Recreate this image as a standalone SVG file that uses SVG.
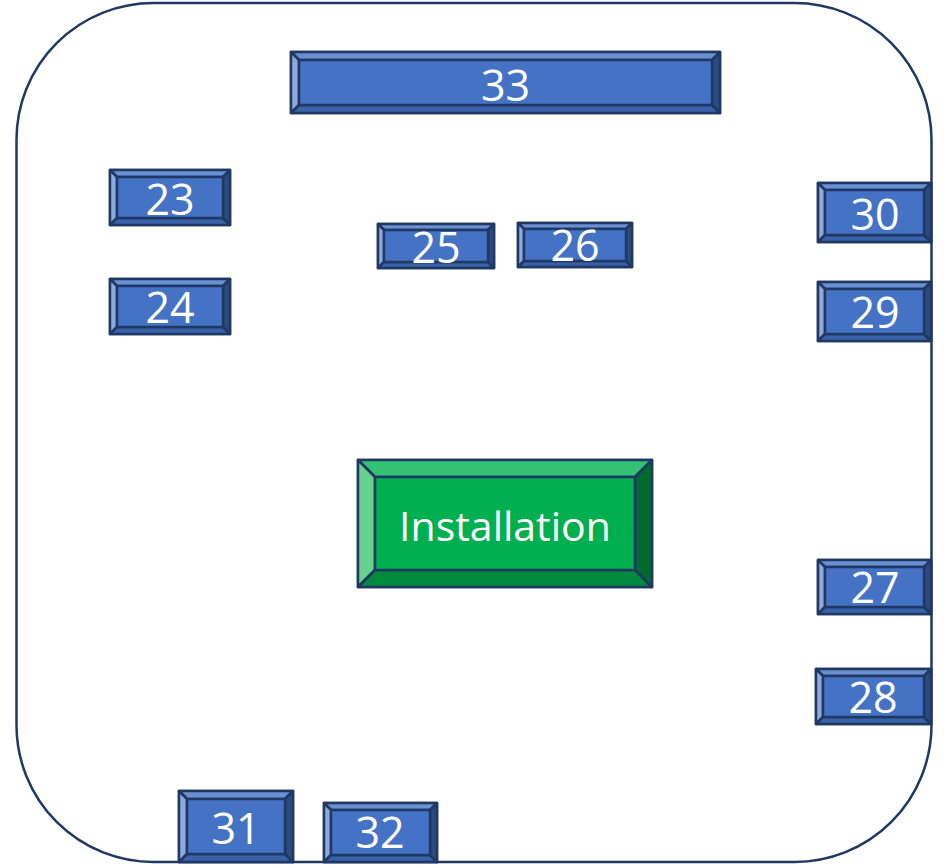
<svg xmlns="http://www.w3.org/2000/svg" width="947" height="865" viewBox="0 0 947 865">
<style>
.s{stroke:#1F3864;stroke-width:2.5;stroke-linejoin:round}
.bm{fill:#4472C4}.bt{fill:#6A8FD2}.bl{fill:#8EAADC}.bb{fill:#3A62A8}.br{fill:#2B4A80}
.gm{fill:#00B050}.gt{fill:#33C174}.gl{fill:#66D08F}.gb{fill:#008A3E}.gr{fill:#006B2F}
.lbl{fill:#FFFFFF;font-family:"Open Sans","Noto Sans",sans-serif;font-size:43px;text-anchor:middle}
</style>
<rect id="frame" x="16.5" y="3" width="915" height="859" rx="137" ry="137" fill="#FFFFFF" stroke="#1F3864" stroke-width="2.5"/>
<g id="connectors"/>
<g id="n33">
<rect class="s bm" x="291" y="52" width="429" height="61"/>
<path class="s bt" d="M291,52 L720,52 L712,60 L299,60 Z"/>
<path class="s bl" d="M291,52 L299,60 L299,105 L291,113 Z"/>
<path class="s bb" d="M291,113 L299,105 L712,105 L720,113 Z"/>
<path class="s br" d="M720,52 L720,113 L712,105 L712,60 Z"/>
<rect class="s bm" x="299" y="60" width="413" height="45"/>
<text class="lbl" x="505.5" y="101">33</text>
</g>
<g id="n23">
<rect class="s bm" x="110" y="170" width="120" height="55"/>
<path class="s bt" d="M110,170 L230,170 L223,177 L117,177 Z"/>
<path class="s bl" d="M110,170 L117,177 L117,218 L110,225 Z"/>
<path class="s bb" d="M110,225 L117,218 L223,218 L230,225 Z"/>
<path class="s br" d="M230,170 L230,225 L223,218 L223,177 Z"/>
<rect class="s bm" x="117" y="177" width="106" height="41"/>
<text class="lbl" x="170" y="215">23</text>
</g>
<g id="n24">
<rect class="s bm" x="110" y="279" width="120" height="55"/>
<path class="s bt" d="M110,279 L230,279 L223,286 L117,286 Z"/>
<path class="s bl" d="M110,279 L117,286 L117,327 L110,334 Z"/>
<path class="s bb" d="M110,334 L117,327 L223,327 L230,334 Z"/>
<path class="s br" d="M230,279 L230,334 L223,327 L223,286 Z"/>
<rect class="s bm" x="117" y="286" width="106" height="41"/>
<text class="lbl" x="170" y="323">24</text>
</g>
<g id="n25">
<rect class="s bm" x="378" y="224" width="116" height="44"/>
<path class="s bt" d="M378,224 L494,224 L488,230 L384,230 Z"/>
<path class="s bl" d="M378,224 L384,230 L384,262 L378,268 Z"/>
<path class="s bb" d="M378,268 L384,262 L488,262 L494,268 Z"/>
<path class="s br" d="M494,224 L494,268 L488,262 L488,230 Z"/>
<rect class="s bm" x="384" y="230" width="104" height="32"/>
<text class="lbl" x="436" y="263">25</text>
</g>
<g id="n26">
<rect class="s bm" x="518" y="223" width="114" height="44"/>
<path class="s bt" d="M518,223 L632,223 L626,229 L524,229 Z"/>
<path class="s bl" d="M518,223 L524,229 L524,261 L518,267 Z"/>
<path class="s bb" d="M518,267 L524,261 L626,261 L632,267 Z"/>
<path class="s br" d="M632,223 L632,267 L626,261 L626,229 Z"/>
<rect class="s bm" x="524" y="229" width="102" height="32"/>
<text class="lbl" x="575" y="261">26</text>
</g>
<g id="n30">
<rect class="s bm" x="818" y="183" width="113" height="59"/>
<path class="s bt" d="M818,183 L931,183 L924,190 L825,190 Z"/>
<path class="s bl" d="M818,183 L825,190 L825,235 L818,242 Z"/>
<path class="s bb" d="M818,242 L825,235 L924,235 L931,242 Z"/>
<path class="s br" d="M931,183 L931,242 L924,235 L924,190 Z"/>
<rect class="s bm" x="825" y="190" width="99" height="45"/>
<text class="lbl" x="875" y="230">30</text>
</g>
<g id="n29">
<rect class="s bm" x="818" y="282" width="113" height="59"/>
<path class="s bt" d="M818,282 L931,282 L924,289 L825,289 Z"/>
<path class="s bl" d="M818,282 L825,289 L825,334 L818,341 Z"/>
<path class="s bb" d="M818,341 L825,334 L924,334 L931,341 Z"/>
<path class="s br" d="M931,282 L931,341 L924,334 L924,289 Z"/>
<rect class="s bm" x="825" y="289" width="99" height="45"/>
<text class="lbl" x="875" y="328">29</text>
</g>
<g id="n27">
<rect class="s bm" x="818" y="560" width="113" height="54"/>
<path class="s bt" d="M818,560 L931,560 L924,567 L825,567 Z"/>
<path class="s bl" d="M818,560 L825,567 L825,607 L818,614 Z"/>
<path class="s bb" d="M818,614 L825,607 L924,607 L931,614 Z"/>
<path class="s br" d="M931,560 L931,614 L924,607 L924,567 Z"/>
<rect class="s bm" x="825" y="567" width="99" height="40"/>
<text class="lbl" x="875" y="603">27</text>
</g>
<g id="n28">
<rect class="s bm" x="816" y="669" width="115" height="55"/>
<path class="s bt" d="M816,669 L931,669 L924,676 L823,676 Z"/>
<path class="s bl" d="M816,669 L823,676 L823,717 L816,724 Z"/>
<path class="s bb" d="M816,724 L823,717 L924,717 L931,724 Z"/>
<path class="s br" d="M931,669 L931,724 L924,717 L924,676 Z"/>
<rect class="s bm" x="823" y="676" width="101" height="41"/>
<text class="lbl" x="873" y="713">28</text>
</g>
<g id="n31">
<rect class="s bm" x="179" y="791" width="114" height="71"/>
<path class="s bt" d="M179,791 L293,791 L285,799 L187,799 Z"/>
<path class="s bl" d="M179,791 L187,799 L187,854 L179,862 Z"/>
<path class="s bb" d="M179,862 L187,854 L285,854 L293,862 Z"/>
<path class="s br" d="M293,791 L293,862 L285,854 L285,799 Z"/>
<rect class="s bm" x="187" y="799" width="98" height="55"/>
<text class="lbl" x="236" y="844">31</text>
</g>
<g id="n32">
<rect class="s bm" x="324" y="803" width="113" height="59"/>
<path class="s bt" d="M324,803 L437,803 L430,810 L331,810 Z"/>
<path class="s bl" d="M324,803 L331,810 L331,855 L324,862 Z"/>
<path class="s bb" d="M324,862 L331,855 L430,855 L437,862 Z"/>
<path class="s br" d="M437,803 L437,862 L430,855 L430,810 Z"/>
<rect class="s bm" x="331" y="810" width="99" height="45"/>
<text class="lbl" x="380" y="848">32</text>
</g>
<g id="installation">
<rect class="s gm" x="358" y="460" width="294" height="127"/>
<path class="s gt" d="M358,460 L652,460 L635,477 L375,477 Z"/>
<path class="s gl" d="M358,460 L375,477 L375,570 L358,587 Z"/>
<path class="s gb" d="M358,587 L375,570 L635,570 L652,587 Z"/>
<path class="s gr" d="M652,460 L652,587 L635,570 L635,477 Z"/>
<rect class="s gm" x="375" y="477" width="260" height="93"/>
<text class="lbl" x="505" y="541" style="font-size:41px">Installation</text>
</g>
</svg>
